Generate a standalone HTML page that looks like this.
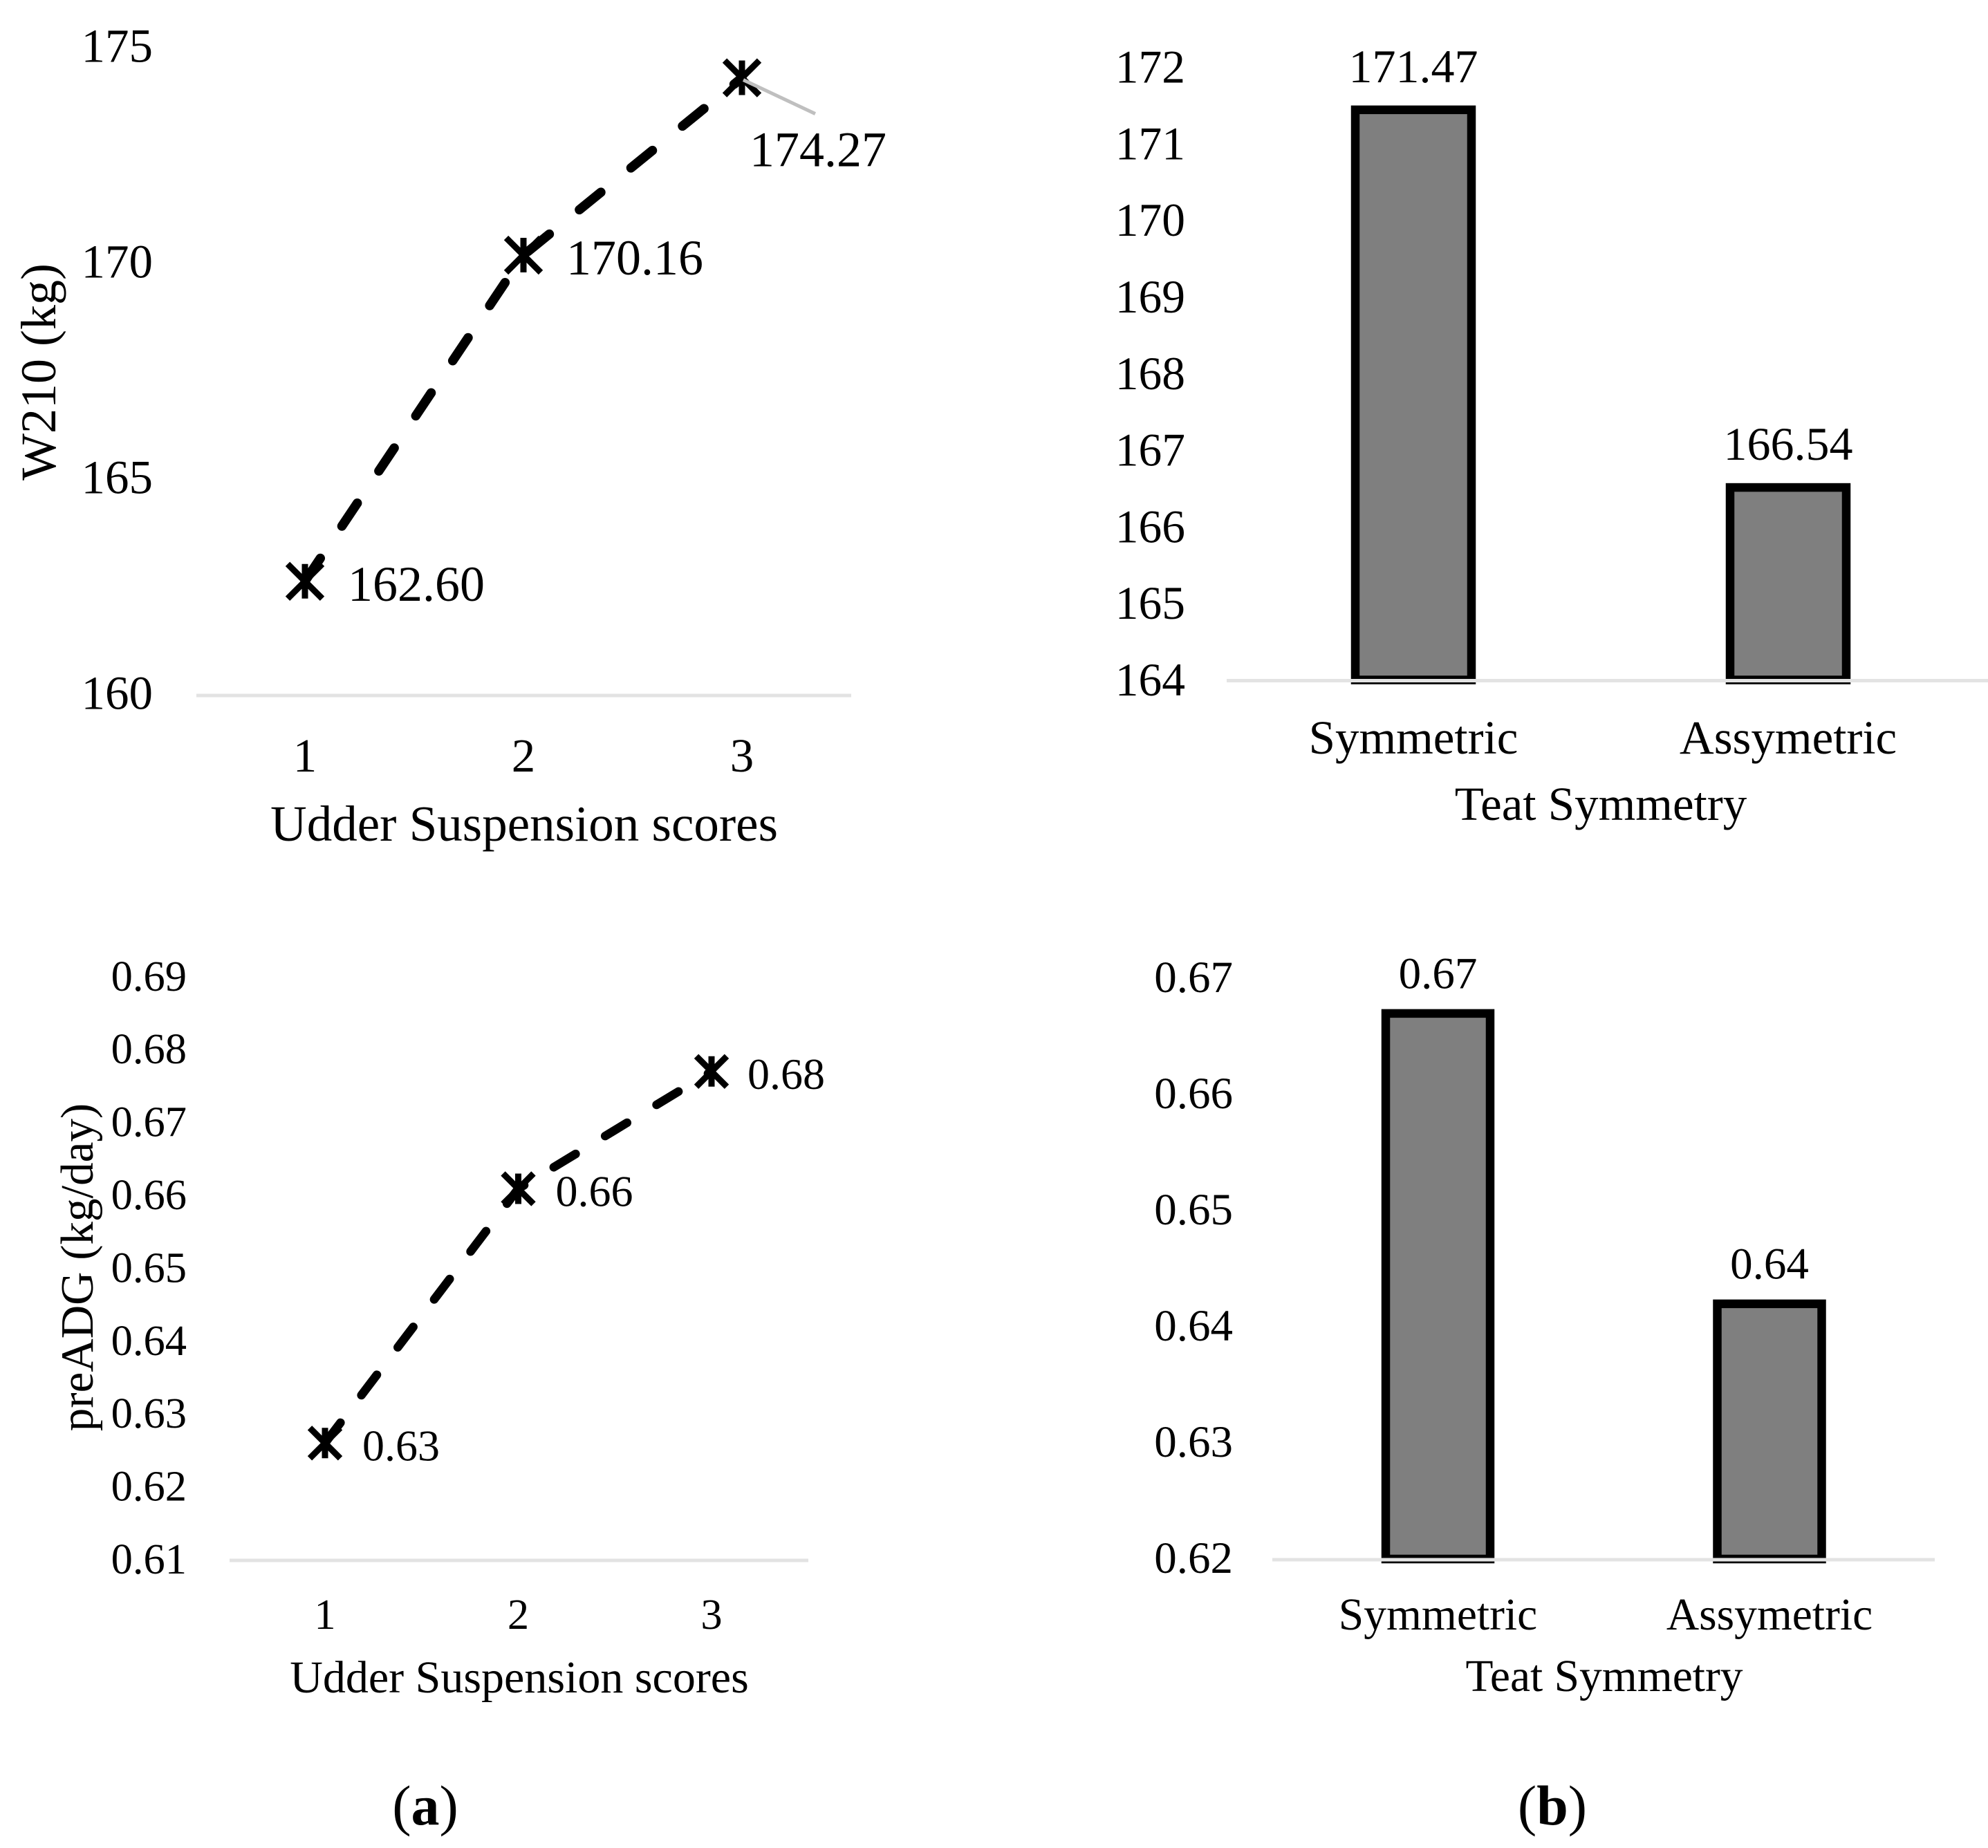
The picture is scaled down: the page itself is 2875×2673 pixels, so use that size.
<!DOCTYPE html>
<html lang="en">
<head>
<meta charset="utf-8">
<title>W210 and preADG by udder suspension score and teat symmetry</title>
<style>
html,body{margin:0;padding:0;background:#fff}
svg{display:block}
text{font-family:"Liberation Serif",serif;fill:#000}
</style>
</head>
<body>
<svg id="figure" xmlns="http://www.w3.org/2000/svg" width="2875" height="2673" viewBox="0 0 2875 2673">
  <rect x="0" y="0" width="2875" height="2673" fill="#fff"/>
  <g id="panel-w210-line">
    <text transform="translate(80 538) rotate(-90)" text-anchor="middle" font-size="72">W210 (kg)</text>
    <text x="758" y="1216" text-anchor="middle" font-size="73">Udder Suspension scores</text>
  </g>
  <g id="panel-w210-bar">
    <text x="2315" y="1186" text-anchor="middle" font-size="69">Teat Symmetry</text>
  </g>
  <g id="panel-adg-line">
    <text transform="translate(134 1833) rotate(-90)" text-anchor="middle" font-size="67">preADG (kg/day)</text>
    <text x="751" y="2448" text-anchor="middle" font-size="66">Udder Suspension scores</text>
  </g>
  <g id="panel-adg-bar">
    <text x="2320" y="2446" text-anchor="middle" font-size="65.5">Teat Symmetry</text>
  </g>
  <text x="615" y="2639" text-anchor="middle" font-size="82">(<tspan font-weight="bold">a</tspan>)</text>
  <text x="2245" y="2639" text-anchor="middle" font-size="82">(<tspan font-weight="bold">b</tspan>)</text>
</svg>
<script>
const scoreCategories = [1, 2, 3];
const w210LineValues = [162.60, 170.16, 174.27];
const w210LineLabels = ['162.60', '170.16', '174.27'];
const w210LineTicks = [160, 165, 170, 175];

const adgLineValues = [0.6261, 0.6610, 0.6771];
const adgLineLabels = ['0.63', '0.66', '0.68'];
const adgLineTicks = [0.61, 0.62, 0.63, 0.64, 0.65, 0.66, 0.67, 0.68, 0.69];

const teatCategories = ['Symmetric', 'Assymetric'];
const w210BarValues = [171.47, 166.54];
const w210BarLabels = ['171.47', '166.54'];
const w210BarTicks = [164, 165, 166, 167, 168, 169, 170, 171, 172];

const adgBarValues = [0.6673, 0.6423];
const adgBarLabels = ['0.67', '0.64'];
const adgBarTicks = [0.62, 0.63, 0.64, 0.65, 0.66, 0.67];

const NS = 'http://www.w3.org/2000/svg';

function addText(parent, name, content, x, y, size, anchor) {
  const el = document.createElementNS(NS, 'text');
  
  
  el.setAttribute('x', x);
  el.setAttribute('y', y);
  el.setAttribute('font-size', size);
  el.setAttribute('text-anchor', anchor);
  el.textContent = content;
  parent.appendChild(el);
  return el;
}

function addLine(parent, name, x1, y1, x2, y2, color, width) {
  const el = document.createElementNS(NS, 'line');
  
  
  el.setAttribute('x1', x1);
  el.setAttribute('y1', y1);
  el.setAttribute('x2', x2);
  el.setAttribute('y2', y2);
  el.setAttribute('stroke', color);
  el.setAttribute('stroke-width', width);
  parent.appendChild(el);
  return el;
}

function addMarker(parent, name, cx, cy, half, width) {
  const g = document.createElementNS(NS, 'g');
  
  
  parent.appendChild(g);
  addLine(g, 'marker-diagonal-a', cx - half, cy - half, cx + half, cy + half, '#000', width);
  addLine(g, 'marker-diagonal-b', cx - half, cy + half, cx + half, cy - half, '#000', width);
  addLine(g, 'marker-vertical', cx, cy - half, cx, cy + half, '#000', width);
}

function drawLinePanel(parent, cats, values, labels, ticks, xFn, yFn, opts) {
  ticks.forEach(function (t) {
    addText(parent, 'y-tick-label', opts.tickFormat(t), opts.tickX, yFn(t) + opts.tickDy, opts.tickFontSize, 'end');
  });
  addLine(parent, 'x-axis-line', opts.axisX1, opts.axisY, opts.axisX2, opts.axisY, '#e3e3e3', 5);
  cats.forEach(function (c, i) {
    addText(parent, 'x-tick-label', String(c), xFn(c), opts.xLabelY, opts.tickFontSize, 'middle');
  });
  const path = document.createElementNS(NS, 'path');
  
  
  path.setAttribute('d', cats.map(function (c, i) {
    return (i ? 'L' : 'M') + xFn(c) + ' ' + yFn(values[i]);
  }).join(' '));
  path.setAttribute('fill', 'none');
  path.setAttribute('stroke', '#000');
  path.setAttribute('stroke-width', opts.lineWidth);
  path.setAttribute('stroke-linecap', 'round');
  path.setAttribute('stroke-linejoin', 'round');
  path.setAttribute('stroke-dasharray', opts.dash);
  parent.appendChild(path);
  cats.forEach(function (c, i) {
    addMarker(parent, 'data-point-' + c, xFn(c), yFn(values[i]), opts.markerHalf, opts.markerWidth);
    const off = opts.labelOffset(i);
    addText(parent, 'data-label-' + c, labels[i], xFn(c) + off[0], yFn(values[i]) + off[1], opts.labelFontSize, 'start');
  });
}

function drawBarPanel(parent, cats, values, labels, ticks, xFn, yFn, opts) {
  ticks.forEach(function (t) {
    addText(parent, 'y-tick-label', opts.tickFormat(t), opts.tickX, yFn(t) + opts.tickDy, opts.tickFontSize, 'end');
  });
  cats.forEach(function (c, i) {
    const cx = xFn(i);
    const top = yFn(values[i]) + opts.topInset;
    const bar = document.createElementNS(NS, 'rect');
    
    
    bar.setAttribute('x', cx - opts.barWidth / 2);
    bar.setAttribute('y', top);
    bar.setAttribute('width', opts.barWidth);
    bar.setAttribute('height', opts.axisY - 1 - top);
    bar.setAttribute('fill', '#7f7f7f');
    bar.setAttribute('stroke', '#000');
    bar.setAttribute('stroke-width', 12.5);
    parent.appendChild(bar);
    addText(parent, 'data-label-' + c.toLowerCase(), labels[i], cx, yFn(values[i]) + opts.labelDy, opts.labelFontSize, 'middle');
    addText(parent, 'x-tick-label', c, cx, opts.xLabelY, opts.catFontSize, 'middle');
  });
  addLine(parent, 'x-axis-line', opts.axisX1, opts.axisY, opts.axisX2, opts.axisY, '#e3e3e3', 5);
}

/* Panel: W210 line */
const w210LineGroup = document.getElementById('panel-w210-line');
const xW210Line = function (s) { return 441 + (s - 1) * 316; };
const yW210Line = function (v) { return 1003 - (v - 160) * 62.4; };
drawLinePanel(w210LineGroup, scoreCategories, w210LineValues, w210LineLabels, w210LineTicks, xW210Line, yW210Line, {
  tickFormat: function (t) { return String(t); },
  tickX: 221, tickDy: 22.5, tickFontSize: 69, labelFontSize: 72,
  axisX1: 284, axisX2: 1231, axisY: 1006, xLabelY: 1116,
  lineWidth: 13.5, dash: '40 56', markerHalf: 25, markerWidth: 9,
  labelOffset: function (i) {
    if (i === 0) { return [62, 28]; }
    if (i === 1) { return [62, 28]; }
    return [11, 128];
  }
});
const leaderStart = xW210Line(3);
const leaderBase = yW210Line(w210LineValues[2]);
const leader = addLine(w210LineGroup, 'data-label-leader-line', leaderStart + 2, leaderBase + 3, leaderStart + 106, leaderBase + 52, '#bfbfbf', 5);

/* Panel: W210 bars */
const w210BarGroup = document.getElementById('panel-w210-bar');
const xW210Bar = function (i) { return 2044 + i * 542; };
const yW210Bar = function (v) { return 984.5 - (v - 164) * 110.8; };
drawBarPanel(w210BarGroup, teatCategories, w210BarValues, w210BarLabels, w210BarTicks, xW210Bar, yW210Bar, {
  tickFormat: function (t) { return String(t); },
  tickX: 1714, tickDy: 21.5, tickFontSize: 67.5, labelFontSize: 68, catFontSize: 69,
  labelDy: -38,
  axisX1: 1774, axisX2: 2875, axisY: 984.5, xLabelY: 1090,
  barWidth: 168, topInset: 2
});

/* Panel: preADG line */
const adgLineGroup = document.getElementById('panel-adg-line');
const xAdgLine = function (s) { return 470 + (s - 1) * 279.5; };
const yAdgLine = function (v) { return 2257 - (v - 0.61) * 10540; };
drawLinePanel(adgLineGroup, scoreCategories, adgLineValues, adgLineLabels, adgLineTicks, xAdgLine, yAdgLine, {
  tickFormat: function (t) { return t.toFixed(2); },
  tickX: 270, tickDy: 19, tickFontSize: 62.5, labelFontSize: 64,
  axisX1: 332, axisX2: 1169, axisY: 2257, xLabelY: 2356,
  lineWidth: 12.5, dash: '37 50', markerHalf: 22, markerWidth: 9,
  labelOffset: function (i) {
    if (i === 0) { return [54, 25]; }
    if (i === 1) { return [54, 25]; }
    return [52, 25];
  }
});

/* Panel: preADG bars */
const adgBarGroup = document.getElementById('panel-adg-bar');
const xAdgBar = function (i) { return 2079.5 + i * 479.5; };
const yAdgBar = function (v) { return 2256 - (v - 0.62) * 16800; };
drawBarPanel(adgBarGroup, teatCategories, adgBarValues, adgBarLabels, adgBarTicks, xAdgBar, yAdgBar, {
  tickFormat: function (t) { return t.toFixed(2); },
  tickX: 1783, tickDy: 19, tickFontSize: 65, labelFontSize: 65, catFontSize: 65.5,
  labelDy: -32,
  axisX1: 1840, axisX2: 2798, axisY: 2256, xLabelY: 2357,
  barWidth: 151, topInset: 4.5
});
</script>
</body>
</html>
